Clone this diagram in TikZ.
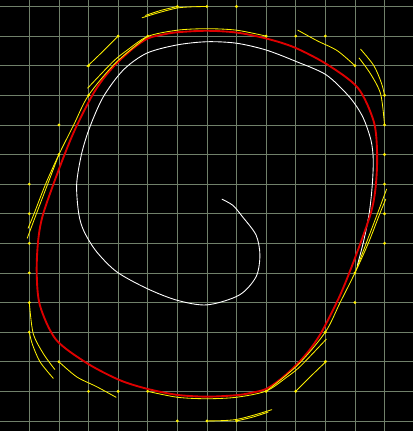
\documentclass[tikz,border=0pt]{standalone}
\usepackage{tikz}
\definecolor{gridgreen}{RGB}{112,128,106}
\definecolor{cyclered}{RGB}{222,0,0}
\begin{document}
\begin{tikzpicture}[line cap=round,line join=round,
  gridline/.style={gridgreen,line width=0.7pt},
  orbit/.style={cyclered,line width=1.8pt},
  inward/.style={white,line width=0.85pt},
  flow/.style={yellow,line width=0.8pt},
  seed/.style={fill=yellow}]
\fill[black] (-6.99,-7.34) rectangle (6.96,7.22);
\useasboundingbox (-6.99,-7.34) rectangle (6.96,7.22);
\clip (-6.99,-7.34) rectangle (6.96,7.22);
\foreach \k in {-7,...,7}{
  \draw[gridline] (\k,-7.4) -- (\k,7.3);
  \draw[gridline] (-7.1,\k) -- (7.1,\k);
}
\draw[inward] plot[smooth] coordinates {(0.51,0.49) (0.88,0.28) (1.2,-0.1) (1.66,-0.72) (1.79,-1.4) (1.66,-2.13) (1.09,-2.75) (0,-3.08) (-1.02,-2.92) (-2.04,-2.52) (-3.05,-1.96) (-3.73,-1.28) (-4.15,-0.6) (-4.33,0) (-4.4,1.0) (-4.23,2.04) (-3.95,2.94) (-3.5,3.95) (-2.83,4.85) (-2.04,5.42) (-1.02,5.7) (0,5.81) (1,5.76) (2,5.53) (3.02,5.14) (4.03,4.69) (4.81,3.95) (5.26,3.28) (5.54,2.49) (5.62,1.81) (5.58,0.9) (5.48,0) (5.3,-0.9) (5.08,-1.75)};
\draw[orbit] plot[smooth cycle] coordinates {(0,6.18) (-1,6.13) (-1.5,6.05) (-2,5.92) (-2.5,5.58) (-3.05,5.08) (-3.5,4.56) (-3.9,3.95) (-4.5,2.75) (-5.0,1.5) (-5.53,0) (-5.7,-0.9) (-5.75,-2.0) (-5.64,-3.1) (-5.1,-4.25) (-4.05,-5.05) (-2.95,-5.62) (-2,-5.92) (-1,-6.12) (0,-6.18) (1,-6.13) (1.5,-6.05) (2,-5.92) (2.5,-5.58) (3.05,-5.08) (3.5,-4.56) (3.9,-3.95) (4.5,-2.75) (5.0,-1.5) (5.53,0) (5.7,0.9) (5.75,2.0) (5.64,3.1) (5.1,4.25) (4.05,5.05) (2.95,5.62) (2,5.92) (1,6.12)};
\foreach \ang in {0,180}{
\begin{scope}[rotate=\ang]
\draw[flow] plot[smooth] coordinates {(0,7) (-0.5,6.99) (-1,6.95) (-1.6,6.8) (-2.19,6.62)};
\draw[flow] plot[smooth] coordinates {(-1,7) (-1.55,6.87) (-2.07,6.7)};
\draw[flow] plot[smooth] coordinates {(2,6) (1,6.2) (0,6.25) (-1,6.2) (-2,5.99) (-2.7,5.52) (-3.17,5.14) (-4.03,4.24)};
\draw[flow] plot[smooth] coordinates {(-2,6) (-3.08,5.1) (-4,4) (-4.5,3.0) (-5,2) (-5.45,1.0) (-5.84,0) (-6.04,-0.49)};
\draw[flow] plot[smooth] coordinates {(-5,2) (-5.38,1.0) (-5.76,0) (-6.07,-0.83)};
\draw[flow] plot[smooth] coordinates {(-3,6) (-3.55,5.45) (-4.05,4.97)};
\draw[flow] plot[smooth] coordinates {(6,3) (5.87,4.04) (5.53,4.72) (5.14,5.26)};
\draw[flow] plot[smooth] coordinates {(6,4) (5.9,4.4) (5.64,5.0) (5.19,5.56)};
\draw[flow] plot[smooth] coordinates {(5,5) (4.4,5.51) (3.73,5.84) (3.07,6.2)};
\foreach \x/\y in {-1/7,0/7,1/7,-2/6,2/6,-3/6,3/6,4/6,-4/5,5/5,-4/4,6/4,-5/3,6/3,-5/2,6/2,-6/1,6/1,-6/0}
  \fill[seed] (\x,\y) circle (1.5pt);
\end{scope}
}
\end{tikzpicture}
\end{document}
